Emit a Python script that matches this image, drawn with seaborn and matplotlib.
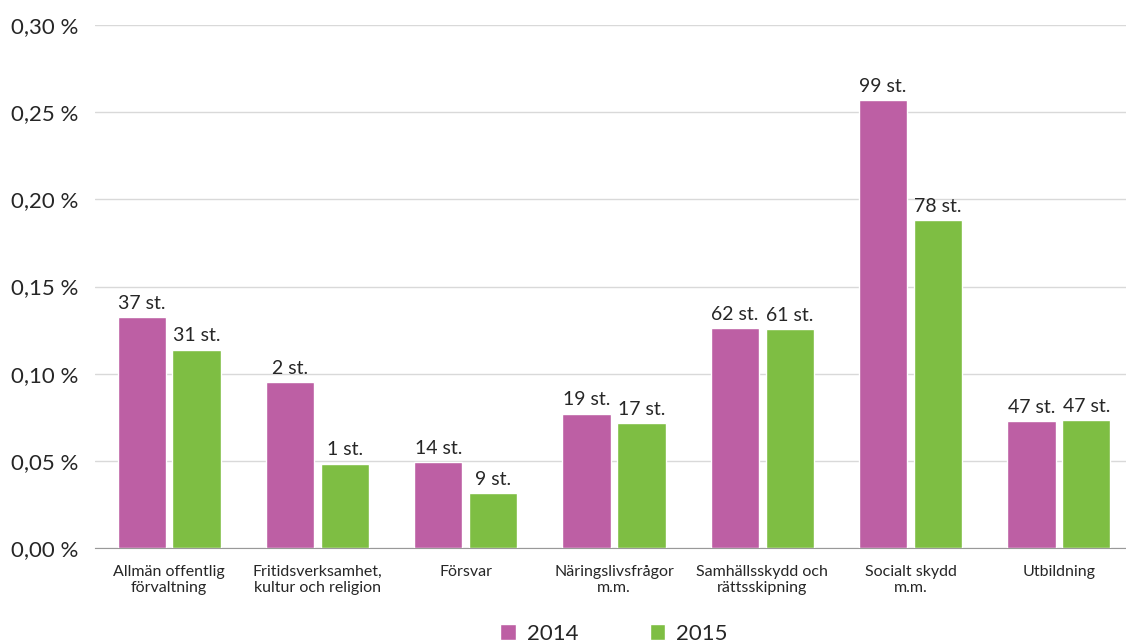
import numpy as np
import pandas as pd
import matplotlib
matplotlib.use('Agg')
import matplotlib.pyplot as plt
import seaborn as sns
from matplotlib.ticker import FuncFormatter, FixedLocator

# data
kategorier = ['Allmän offentlig\nförvaltning', 'Fritidsverksamhet,\nkultur och religion', 'Försvar',
              'Näringslivsfrågor\nm.m.', 'Samhällsskydd och\nrättsskipning', 'Socialt skydd\nm.m.', 'Utbildning']
andel_2014 = [0.1325, 0.0952, 0.0493, 0.0769, 0.1262, 0.2570, 0.0728]
andel_2015 = [0.1136, 0.0482, 0.0315, 0.0717, 0.1256, 0.1881, 0.0734]
antal_2014 = [37, 2, 14, 19, 62, 99, 47]
antal_2015 = [31, 1, 9, 17, 61, 78, 47]

df = pd.DataFrame({
    'Kategori': kategorier * 2,
    'Andel': andel_2014 + andel_2015,
    'Antal': antal_2014 + antal_2015,
    'År': ['2014'] * 7 + ['2015'] * 7,
})

sns.set_style('white')
plt.rcParams['font.family'] = ['Lato', 'DejaVu Sans']

fig = plt.figure(figsize=(11.26, 6.44), dpi=100)
ax = fig.add_axes([0.0844, 0.149, 0.9218, 0.812])

sns.barplot(data=df, x='Kategori', y='Andel', hue='År',
            palette={'2014': '#BD5FA4', '2015': '#7EBE43'}, saturation=1,
            width=0.74, gap=0.12, ax=ax, legend=True, zorder=3)

# etiketter ovanför staplarna
for cont, antal in zip(ax.containers, [antal_2014, antal_2015]):
    ax.bar_label(cont, labels=[f'{a} st.' for a in antal], padding=4, fontsize=14)

ax.set_ylim(0, 0.30)
ax.set_xlim(-0.5, 6.5)
ax.yaxis.set_major_formatter(FuncFormatter(lambda v, p: f'{v:.2f}'.replace('.', ',') + ' %'))
ax.set_yticks(np.arange(0, 0.301, 0.05))
ax.tick_params(axis='y', labelsize=16, length=0, pad=12)
ax.grid(axis='y', color='#d9d9d9', linewidth=1, zorder=0)
ax.set_axisbelow(True)

ax.tick_params(axis='x', which='major', length=0, labelsize=11.5, pad=12)
ax.xaxis.set_minor_locator(FixedLocator(np.arange(-0.5, 7, 1)))
ax.tick_params(axis='x', which='minor', length=6, color='#999999', width=1)

for s in ['left', 'right', 'top']:
    ax.spines[s].set_visible(False)
ax.spines['bottom'].set_color('#999999')
ax.set_xlabel('')
ax.set_ylabel('')

ax.legend(loc='upper center', bbox_to_anchor=(0.50, -0.124), ncol=2, frameon=False,
          fontsize=16, handlelength=0.7, handleheight=0.7, columnspacing=3.2, handletextpad=0.5,
          borderpad=0)

fig.savefig('out.png', dpi=100)
